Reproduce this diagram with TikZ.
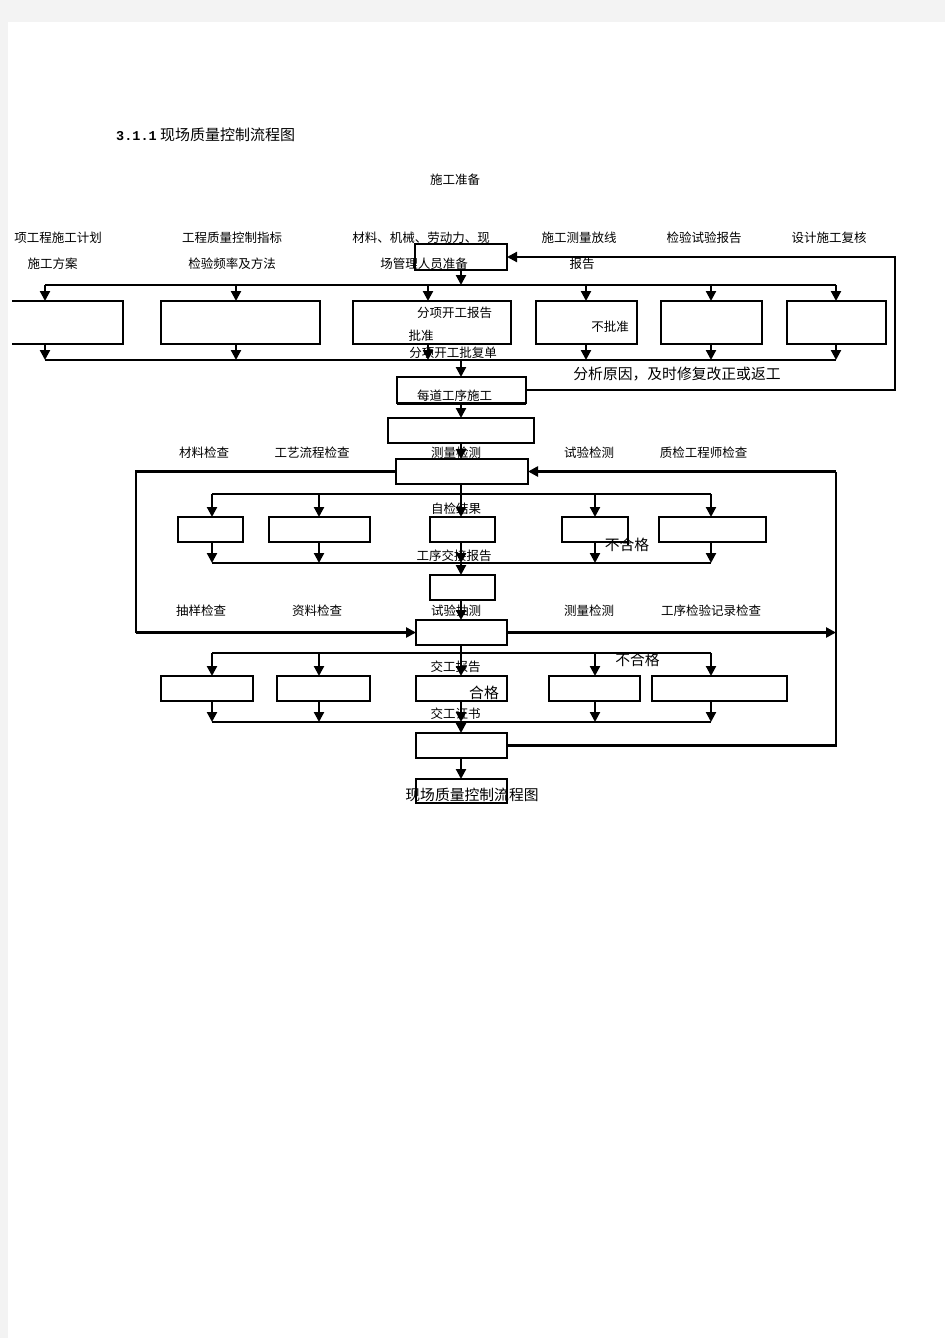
\documentclass[tikz,border=0pt]{standalone}
\usepackage{fontspec}
\setmainfont{Noto Sans CJK SC}
\newfontfamily\monofnt{Liberation Mono}
\usetikzlibrary{arrows.meta}
\definecolor{pagegray}{HTML}{F3F3F3}
\begin{document}
\begin{tikzpicture}
  [x=1pt,y=-1pt,
   blk/.style={draw=black,line width=1.6pt,inner sep=0pt,outer sep=0pt},
   lbl/.style={font=\fontsize{12.5}{14}\selectfont,inner sep=0pt},
   biglbl/.style={font=\fontsize{14.8}{16}\selectfont,inner sep=0pt},
   arr/.style={line width=2.2pt,-{Triangle[width=10pt,length=10pt]}},
   bus/.style={line width=2.2pt}]

  \useasboundingbox (0,0) rectangle (945,1338);
  \fill[pagegray] (0,0) rectangle (945,1338);
  \fill[white] (8,22) rectangle (945,1338);

  % boxes
  \node[blk,minimum width=92pt,minimum height=26pt] (prep) at (461,257) {};
  \node[blk,draw=none,minimum width=111pt,minimum height=43pt] (r1a) at (67.5,322.5) {};
  \draw[line width=1.6pt] (r1a.north west) -| (r1a.south east) -- (r1a.south west);
  \foreach \n/\x/\w in {r1b/240.5/159, r1c/432/158, r1d/586.5/101, r1e/711.5/101, r1f/836.5/99}
    \node[blk,minimum width=\w pt,minimum height=43pt] (\n) at (\x,322.5) {};
  \node[blk,minimum width=129pt,minimum height=26pt] (work) at (461.5,390) {};
  \draw[line width=3pt] (work.south west) -- (work.south east);
  \node[blk,minimum width=146pt,minimum height=25pt] (chk) at (461,430.5) {};
  \node[blk,minimum width=132pt,minimum height=25pt] (meas) at (462,471.5) {};
  \foreach \n/\x/\w in {r2a/210.5/65, r2b/319.5/101, r2c/462.5/65, r2d/595/66, r2e/712.5/107}
    \node[blk,minimum width=\w pt,minimum height=25pt] (\n) at (\x,529.5) {};
  \draw[line width=2.5pt] (r2d.north east) -- ([yshift=-3pt]r2d.south east);
  \node[blk,minimum width=65pt,minimum height=25pt] (hand) at (462.5,587.5) {};
  \node[blk,minimum width=91pt,minimum height=25pt] (sample) at (461.5,632.5) {};
  \foreach \n/\x/\w in {r3a/207/92, r3b/323.5/93, r3c/461.5/91, r3d/594.5/91, r3e/719.5/135}
    \node[blk,minimum width=\w pt,minimum height=25pt] (\n) at (\x,688.5) {};
  \node[blk,minimum width=91pt,minimum height=25pt] (fin) at (461.5,745.5) {};
  \node[blk,minimum width=91pt,minimum height=24pt] (last) at (461.5,791) {};

  % buses
  \coordinate (b1w) at (45,285);  \coordinate (b1e) at (836,285);
  \coordinate (b2w) at (45,360);  \coordinate (b2e) at (836,360);
  \coordinate (b3w) at (212,494); \coordinate (b3e) at (711,494);
  \coordinate (b4w) at (212,563); \coordinate (b4e) at (711,563);
  \coordinate (b5w) at (212,653); \coordinate (b5e) at (711,653);
  \coordinate (b6w) at (212,722); \coordinate (b6e) at (711,722);
  \foreach \a/\b in {b1w/b1e, b2w/b2e, b3w/b3e, b4w/b4e, b5w/b5e, b6w/b6e}
    \draw[bus] (\a) -- (\b);

  % arrows
  \draw[arr] (prep.south) -- (prep.south |- b1w);
  \foreach \n/\x in {r1a/45, r1b/236, r1c/428, r1d/586, r1e/711, r1f/836} {
    \draw[arr] (\x,0 |- b1w) -- (\x,0 |- \n.north);
    \draw[arr] (\x,0 |- \n.south) -- (\x,0 |- b2w);
  }
  \draw[arr] (461,0 |- b2w) -- (work.north -| 461,0);
  \draw[arr] (work.south -| 461,0) -- (chk.north -| 461,0);
  \draw[arr] (chk.south -| 461,0) -- (meas.north -| 461,0);
  \draw[arr] (meas.south -| 461,0) -- (r2c.north -| 461,0);
  \foreach \n/\x in {r2a/212, r2b/319, r2d/595, r2e/711}
    \draw[arr] (\x,0 |- b3w) -- (\x,0 |- \n.north);
  \foreach \n/\x in {r2a/212, r2b/319, r2c/461, r2d/595, r2e/711}
    \draw[arr] (\x,0 |- \n.south) -- (\x,0 |- b4w);
  \draw[arr] (461,0 |- b4w) -- (hand.north -| 461,0);
  \draw[arr] (hand.south -| 461,0) -- (sample.north -| 461,0);
  \draw[arr] (sample.south -| 461,0) -- (r3c.north -| 461,0);
  \foreach \n/\x in {r3a/212, r3b/319, r3d/595, r3e/711}
    \draw[arr] (\x,0 |- b5w) -- (\x,0 |- \n.north);
  \foreach \n/\x in {r3a/212, r3b/319, r3c/461, r3d/595, r3e/711}
    \draw[arr] (\x,0 |- \n.south) -- (\x,0 |- b6w);
  \draw[arr] (461,0 |- b6w) -- (fin.north -| 461,0);
  \draw[arr] (fin.south -| 461,0) -- (last.north -| 461,0);

  % loops
  \coordinate (lft) at (136,0 |- meas.west);
  \coordinate (rgt) at (836,0 |- meas.east);
  \draw[arr] (work.east) -- (895,0 |- work.east) |- (prep.east);
  \draw[bus] (meas.west) -- (lft) -- (lft |- sample.west);
  \draw[arr,line width=3pt] (lft |- sample.west) -- (sample.west);
  \draw[arr,line width=3pt] (sample.east) -- (rgt |- sample.east);
  \draw[bus] (fin.east) -- (rgt |- fin.east) -- (rgt);
  \draw[arr,line width=3pt] (rgt) -- (meas.east);

  % texts
  \node[lbl,anchor=west,font=\fontsize{15}{17}\selectfont] (ttl) at (116,135)
    {{\monofnt\fontsize{13.5}{15}\selectfont\bfseries 3.1.1} 现场质量控制流程图};
  \node[lbl] (t0) at (455,180) {施工准备};
  \node[lbl] (t1) at (58,238) {项工程施工计划};
  \node[lbl] (t2) at (232,238) {工程质量控制指标};
  \node[lbl] (t3) at (421,238) {材料、机械、劳动力、现};
  \node[lbl] (t4) at (579,238) {施工测量放线};
  \node[lbl] (t5) at (704,238) {检验试验报告};
  \node[lbl] (t6) at (829,238) {设计施工复核};
  \node[lbl] (t7) at (52.5,264) {施工方案};
  \node[lbl] (t8) at (232,264) {检验频率及方法};
  \node[lbl] (t9) at (424,264) {场管理人员准备};
  \node[lbl] (t10) at (582,264) {报告};
  \node[lbl] (t11) at (454.5,313) {分项开工报告};
  \node[lbl] (t12) at (421,336) {批准};
  \node[lbl] (t13) at (610,327) {不批准};
  \node[lbl] (t14) at (453,353) {分项开工批复单};
  \node[biglbl] (t15) at (677,374) {分析原因，及时修复改正或返工};
  \node[lbl] (t16) at (454.5,396) {每道工序施工};
  \node[lbl] (t17) at (204,453) {材料检查};
  \node[lbl] (t18) at (312,453) {工艺流程检查};
  \node[lbl] (t19) at (456,453) {测量检测};
  \node[lbl] (t20) at (589,453) {试验检测};
  \node[lbl] (t21) at (703.5,453) {质检工程师检查};
  \node[lbl] (t22) at (456,509) {自检结果};
  \node[biglbl] (t23) at (627,545) {不合格};
  \node[lbl] (t24) at (454,556) {工序交接报告};
  \node[lbl] (t25) at (201,611) {抽样检查};
  \node[lbl] (t26) at (317,611) {资料检查};
  \node[lbl] (t27) at (456,611) {试验抽测};
  \node[lbl] (t28) at (589,611) {测量检测};
  \node[lbl] (t29) at (711,611) {工序检验记录检查};
  \node[lbl] (t30) at (455.5,667) {交工报告};
  \node[biglbl] (t31) at (484,693) {合格};
  \node[biglbl] (t32) at (637.5,660) {不合格};
  \node[lbl] (t33) at (455.5,714) {交工证书};
  \node[biglbl] (t34) at (472,795) {现场质量控制流程图};
\end{tikzpicture}
\end{document}
